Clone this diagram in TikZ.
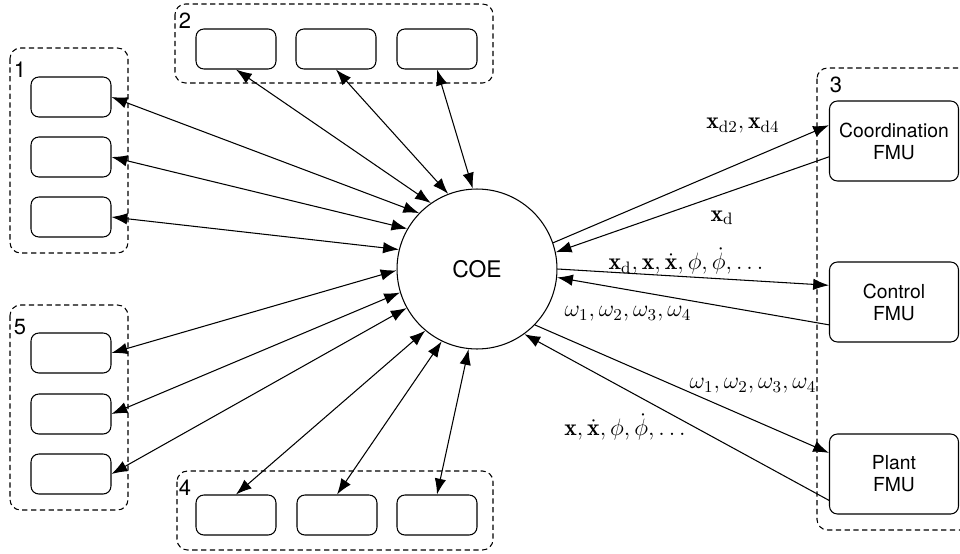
\documentclass[tikz,border=0pt]{standalone}
\usepackage{fix-cm}
\usepackage{fontspec}
\setsansfont{TeX Gyre Heros}
\usepackage{amsmath,amssymb}
\usepackage{tikz}
\usetikzlibrary{arrows.meta}

\begin{document}
\begin{tikzpicture}
		[x=0.02cm,y=-0.02cm,line width=0.6pt,
		every node/.style={font=\sffamily\fontsize{11}{12.5}\selectfont},
		fmu/.style={draw,rounded corners=4.5pt,minimum width=1.6cm,minimum height=0.8cm,inner sep=0pt},
		bigfmu/.style={draw,rounded corners=4.5pt,minimum width=2.58cm,minimum height=1.6cm,align=center,inner sep=0pt},
		group/.style={draw,dashed,dash pattern=on 3pt off 2pt,rounded corners=6pt},
		num/.style={inner sep=0pt,font=\sffamily\fontsize{12.5}{14}\selectfont},
		sig/.style={inner sep=1pt,font=\fontsize{13.5}{16}\selectfont},
		tips/.style={{Latex[length=9pt,width=6.5pt]}-{Latex[length=9pt,width=6.5pt]}},
		to/.style={-{Latex[length=9pt,width=6.5pt]}}]
		\useasboundingbox (0,0) rectangle (960,554);
		\node[draw,circle,minimum size=3.2cm,inner sep=0pt,font=\sffamily\fontsize{13}{15}\selectfont] (coe) at (477,269) {COE};
		% group 1
		\draw[group] (10,48) rectangle (128,253);
		\node[num] (n1) at (20,70) {1};
		\node[fmu] (a1) at (71,97) {};
		\node[fmu] (a2) at (71,157) {};
		\node[fmu] (a3) at (71,217) {};
		% group 5
		\draw[group] (10,305) rectangle (128,510);
		\node[num] (n5) at (20,327) {5};
		\node[fmu] (e1) at (71,353) {};
		\node[fmu] (e2) at (71,414) {};
		\node[fmu] (e3) at (71,474) {};
		% group 2
		\draw[group] (175,4) rectangle (493,83);
		\node[num] (n2) at (185,21) {2};
		\node[fmu] (b1) at (236,49) {};
		\node[fmu] (b2) at (336,49) {};
		\node[fmu] (b3) at (437,49) {};
		% group 4
		\draw[group] (177,471) rectangle (493,550);
		\node[num] (n4) at (185,488) {4};
		\node[fmu] (d1) at (236,515) {};
		\node[fmu] (d2) at (337,515) {};
		\node[fmu] (d3) at (437,515) {};
		% group 3
		\draw[group] (817,68) rectangle (1000,530);
		\node[num] (n3) at (836,85) {3};
		\node[bigfmu] (crd) at (894,141) {Coordination\\FMU};
		\node[bigfmu] (ctl) at (894,302) {Control\\FMU};
		\node[bigfmu] (plt) at (894,474) {Plant\\FMU};

		\draw[tips] (a1.east) -- (coe.136);
		\draw[tips] (a2.east) -- (coe.150);
		\draw[tips] (a3.east) -- (coe.166);
		\draw[tips] (e1.east) -- (coe.181);
		\draw[tips] (e2.east) -- (coe.197);
		\draw[tips] (e3.east) -- (coe.209);
		\draw[tips] (b1.south) -- (coe.125);
		\draw[tips] (b2.south) -- (coe.111);
		\draw[tips] (b3.south) -- (coe.93);
		\draw[tips] (d1.north) -- (coe.230);
		\draw[tips] (d2.north) -- (coe.244);
		\draw[tips] (d3.north) -- (coe.264);

		\draw[to] (coe.19) -- ([yshift=9pt]crd.west);
		\draw[to] ([yshift=-9pt]crd.west) -- (coe.12);
		\draw[to] (coe.0) -- ([yshift=9.5pt]ctl.west);
		\draw[to] ([yshift=-13pt]ctl.west) -- (coe.-6);
		\draw[to] (coe.-44) -- ([yshift=12pt]plt.west);
		\draw[to] ([yshift=-15pt]plt.west) -- (coe.-54);

		\node[sig] (s1) at (743,126) {$\mathbf{x}_{\mathrm{d}2},\mathbf{x}_{\mathrm{d}4}$};
		\node[sig] (s2) at (722,218) {$\mathbf{x}_{\mathrm{d}}$};
		\node[sig] (s3) at (686,261) {$\mathbf{x}_{\mathrm{d}},\mathbf{x},\dot{\mathbf{x}},\phi,\dot{\phi},\ldots$};
		\node[sig] (s4) at (628,314) {$\omega_1,\omega_2,\omega_3,\omega_4$};
		\node[sig] (s5) at (753,386) {$\omega_1,\omega_2,\omega_3,\omega_4$};
		\node[sig] (s6) at (625,427) {$\mathbf{x},\dot{\mathbf{x}},\phi,\dot{\phi},\ldots$};
\end{tikzpicture}
\end{document}
